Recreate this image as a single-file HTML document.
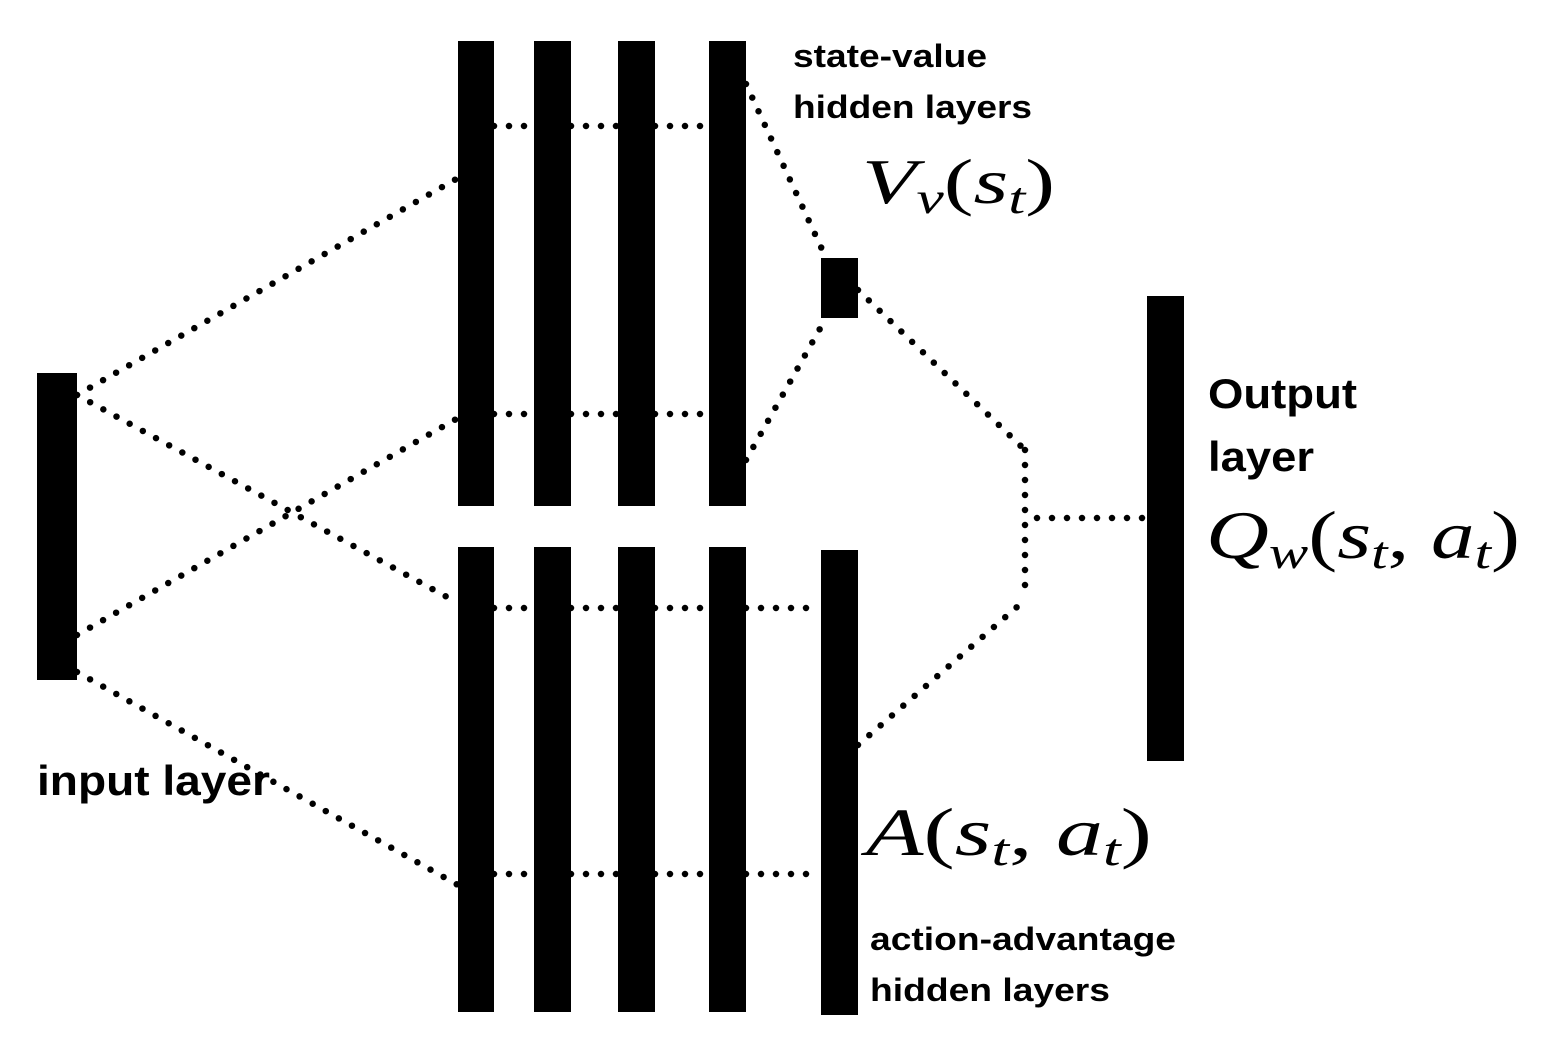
<!DOCTYPE html>
<html><head><style>
body{margin:0;background:#fff;width:1556px;height:1048px;overflow:hidden}
svg{display:block}
.l{font-family:"Liberation Sans",sans-serif;font-weight:bold;fill:#000}
.m{font-family:"Liberation Serif",serif;font-style:italic;fill:#000}
.r{font-family:"Liberation Serif",serif;fill:#000}
</style></head><body>
<svg width="1556" height="1048" viewBox="0 0 1556 1048">
<g fill="#000">
<rect x="37" y="373" width="40" height="307"/>
<rect x="458" y="41" width="36" height="465"/>
<rect x="534" y="41" width="37" height="465"/>
<rect x="618" y="41" width="37" height="465"/>
<rect x="709" y="41" width="37" height="465"/>
<rect x="458" y="547" width="36" height="465"/>
<rect x="534" y="547" width="37" height="465"/>
<rect x="618" y="547" width="37" height="465"/>
<rect x="709" y="547" width="37" height="465"/>
<rect x="821" y="258" width="37" height="60"/>
<rect x="821" y="550" width="37" height="465"/>
<rect x="1147" y="296" width="37" height="465"/>
</g>
<g stroke="#000" stroke-width="6.5" stroke-linecap="round" stroke-dasharray="0 15" fill="none">
<line x1="77" y1="395" x2="458" y2="178"/>
<line x1="77" y1="395" x2="458" y2="603"/>
<line x1="77" y1="635" x2="458" y2="418"/>
<line x1="77" y1="672" x2="458" y2="885"/>
<line x1="494" y1="126" x2="534" y2="126"/><line x1="571" y1="126" x2="618" y2="126"/><line x1="655" y1="126" x2="709" y2="126"/>
<line x1="494" y1="414" x2="534" y2="414"/><line x1="571" y1="414" x2="618" y2="414"/><line x1="655" y1="414" x2="709" y2="414"/>
<line x1="494" y1="608" x2="534" y2="608"/><line x1="571" y1="608" x2="618" y2="608"/><line x1="655" y1="608" x2="709" y2="608"/><line x1="746" y1="608" x2="821" y2="608"/>
<line x1="494" y1="874" x2="534" y2="874"/><line x1="571" y1="874" x2="618" y2="874"/><line x1="655" y1="874" x2="709" y2="874"/><line x1="746" y1="874" x2="821" y2="874"/>
<line x1="746" y1="84" x2="826" y2="258"/>
<line x1="746" y1="460" x2="826" y2="318"/>
<line x1="858" y1="290" x2="1025" y2="450"/>
<line x1="1025" y1="450" x2="1025" y2="600"/>
<line x1="858" y1="745" x2="1025" y2="600"/>
<line x1="1037" y1="518" x2="1147" y2="518"/>
</g>
<text class="l" x="793" y="67" font-size="32" textLength="194" lengthAdjust="spacingAndGlyphs">state-value</text>
<text class="l" x="793" y="118" font-size="32" textLength="239" lengthAdjust="spacingAndGlyphs">hidden layers</text>
<text class="l" x="37" y="795" font-size="42" textLength="233" lengthAdjust="spacingAndGlyphs">input layer</text>
<text class="l" x="1208" y="408" font-size="42" textLength="149" lengthAdjust="spacingAndGlyphs">Output</text>
<text class="l" x="1208" y="471" font-size="42" textLength="106" lengthAdjust="spacingAndGlyphs">layer</text>
<text class="l" x="870" y="950" font-size="32" textLength="306" lengthAdjust="spacingAndGlyphs">action-advantage</text>
<text class="l" x="870" y="1001" font-size="32" textLength="240" lengthAdjust="spacingAndGlyphs">hidden layers</text>
<text x="862" y="203" font-size="64" textLength="193" lengthAdjust="spacingAndGlyphs"><tspan class="m">V</tspan><tspan class="m" font-size="44" dy="10">v</tspan><tspan class="r" dy="-10">(</tspan><tspan class="m">s</tspan><tspan class="m" font-size="44" dy="10">t</tspan><tspan class="r" dy="-10">)</tspan></text>
<text x="1206" y="558" font-size="68" textLength="314" lengthAdjust="spacingAndGlyphs"><tspan class="m">Q</tspan><tspan class="m" font-size="46" dy="10">w</tspan><tspan class="r" dy="-10">(</tspan><tspan class="m">s</tspan><tspan class="m" font-size="46" dy="10">t</tspan><tspan class="r" dy="-10">, </tspan><tspan class="m">a</tspan><tspan class="m" font-size="46" dy="10">t</tspan><tspan class="r" dy="-10">)</tspan></text>
<text x="866" y="855" font-size="68" textLength="286" lengthAdjust="spacingAndGlyphs"><tspan class="m">A</tspan><tspan class="r">(</tspan><tspan class="m">s</tspan><tspan class="m" font-size="46" dy="10">t</tspan><tspan class="r" dy="-10">, </tspan><tspan class="m">a</tspan><tspan class="m" font-size="46" dy="10">t</tspan><tspan class="r" dy="-10">)</tspan></text>
</svg>
</body></html>
